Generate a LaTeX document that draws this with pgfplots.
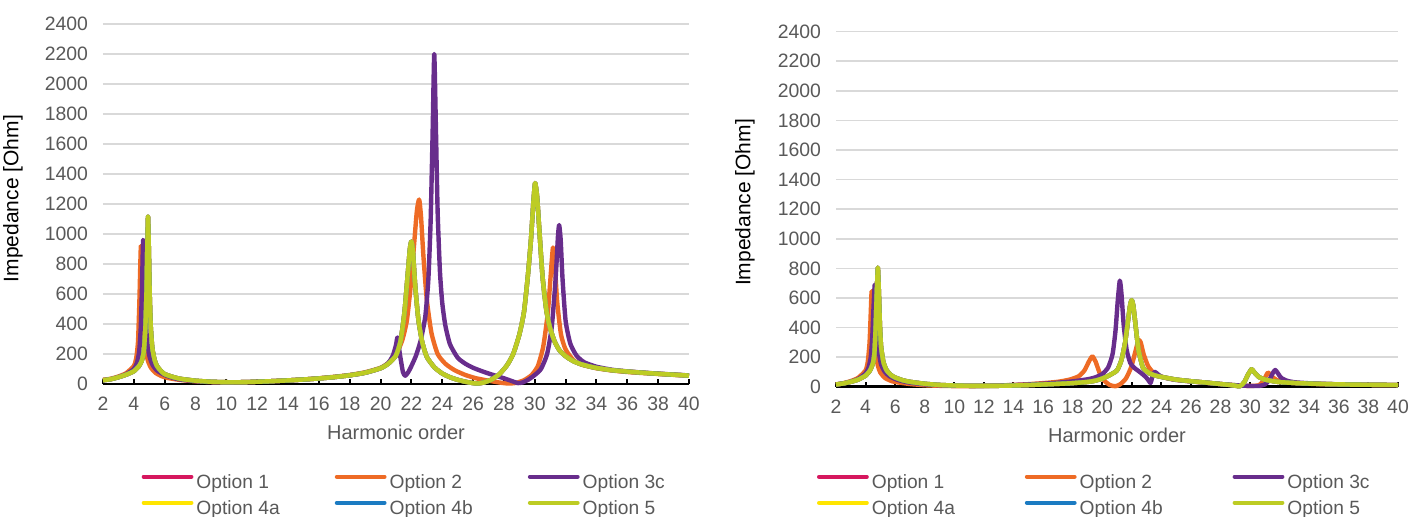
\documentclass[border=0pt]{standalone}
\usepackage{fontspec}
\setmainfont{Liberation Sans}
\usepackage{pgfplots}
\usepackage{pgfplotstable}
\pgfplotsset{compat=1.18}

\definecolor{optOne}{HTML}{D6175E}
\definecolor{optTwo}{HTML}{EE6B25}
\definecolor{optThree}{HTML}{682D8C}
\definecolor{optFourA}{HTML}{FFE500}
\definecolor{optFourB}{HTML}{1B7BC2}
\definecolor{optFive}{HTML}{BDCC24}
\definecolor{labelgray}{HTML}{595959}
\definecolor{gridgray}{HTML}{D9D9D9}

% ---------- network 1 : impedance vs harmonic order ----------
\pgfplotstableread{
h z
2 25
2.5 32
3 45
3.5 62
4 85
4.3 115
4.5 150
4.65 220
4.75 380
4.82 620
4.87 900
4.92 1115
4.97 920
5.03 600
5.1 380
5.2 240
5.35 160
5.5 120
5.75 88
6 66
6.5 48
7 35
8 22
9 15
10 12
11 12
12 15
13 19
14 24
15 30
16 37
17 46
18 58
19 75
20 105
20.5 135
21 190
21.3 290
21.55 480
21.75 720
21.9 900
22 950
22.1 880
22.25 650
22.45 430
22.7 280
23 180
23.5 110
24 70
24.5 45
25 28
25.5 15
26 6
26.3 3
26.7 10
27.2 30
27.7 65
28.2 125
28.6 200
29 330
29.3 480
29.55 720
29.75 960
29.9 1200
30.02 1340
30.15 1250
30.3 1020
30.5 720
30.75 490
31 370
31.3 280
31.6 225
32 185
32.5 152
33 132
33.5 118
34 107
35 92
36 83
37 75
38 68
39 62
40 56
}\leftFive

\pgfplotstableread{
h z
2 28
2.5 35
3 50
3.5 72
4 120
4.15 170
4.27 280
4.36 550
4.42 800
4.46 920
4.52 750
4.6 450
4.72 260
4.9 160
5.1 110
5.4 75
5.8 52
6.2 40
7 27
8 18
9 13
10 11
11 12
12 15
13 19
14 24
15 30
16 38
17 48
18 60
19 78
20 108
20.5 140
21 195
21.4 290
21.7 420
21.95 650
22.15 900
22.35 1150
22.5 1230
22.62 1120
22.78 850
23 560
23.3 340
23.7 200
24.2 135
24.8 92
25.5 60
26.2 38
27 22
27.7 10
28.3 3
28.8 8
29.3 25
29.8 60
30.2 120
30.55 250
30.85 480
31.05 750
31.18 910
31.3 800
31.45 550
31.7 330
32 230
32.5 160
33 130
34 105
35 90
36 80
37 73
38 67
39 61
40 56
}\leftTwo

\pgfplotstableread{
h z
2 25
2.5 32
3 46
3.5 65
4 100
4.2 140
4.35 220
4.45 380
4.53 650
4.6 960
4.66 800
4.74 500
4.85 300
5 190
5.2 130
5.5 90
6 60
6.5 42
7 30
8 19
9 13
10 11
11 12
12 15
13 19
14 24
15 30
16 37
17 46
18 58
19 75
20 105
20.5 140
20.8 190
21 260
21.1 310
21.25 200
21.45 80
21.6 55
21.8 80
22 120
22.3 190
22.6 290
22.9 450
23.1 700
23.25 1100
23.38 1700
23.48 2200
23.58 1750
23.7 1150
23.85 750
24 540
24.2 390
24.5 265
25 175
25.5 135
26 108
26.5 88
27 70
27.5 54
28 38
28.5 20
28.9 6
29.2 10
29.6 30
30 60
30.4 100
30.8 200
31.1 380
31.35 700
31.5 980
31.58 1060
31.68 960
31.8 700
32 420
32.3 270
32.7 190
33.2 145
34 115
35 95
36 84
37 76
38 69
39 63
40 57
}\leftThree

% ---------- network 2 ----------
\pgfplotstableread{
h z
2 15
2.5 22
3 33
3.5 48
4 75
4.3 110
4.5 160
4.6 230
4.68 400
4.75 620
4.83 805
4.9 640
4.97 420
5.05 270
5.2 170
5.4 115
5.7 80
6 62
6.5 44
7 33
8 20
9 12
10 8
11 6
12 5
13 6
14 8
15 11
16 15
17 19
18 24
19 32
19.5 40
20 55
20.5 78
21 110
21.3 180
21.55 300
21.75 450
21.9 560
22 585
22.1 550
22.25 420
22.45 250
22.75 130
23.2 90
23.6 75
24 66
24.5 57
25 48
26 37
27 28
28 18
28.8 10
29.3 3
29.6 30
29.85 80
30.1 118
30.3 95
30.6 65
31 48
31.5 38
32 31
33 25
34 21
35 18
36 16
37 14
38 13
39 12
40 11
}\rightFive

\pgfplotstableread{
h z
2 15
2.5 24
3 38
3.5 60
4 110
4.15 170
4.27 300
4.35 500
4.41 645
4.48 540
4.58 340
4.7 210
4.85 135
5 95
5.3 60
5.7 40
6 32
7 18
8 10
9 6
10 4
11 4
12 5
13 8
14 12
15 17
16 24
17 33
17.8 48
18.4 70
18.8 110
19.1 170
19.33 205
19.55 170
19.8 100
20.1 45
20.5 12
20.88 3
21.2 15
21.6 55
21.95 130
22.25 240
22.45 315
22.6 300
22.8 220
23.1 140
23.5 90
24 68
24.5 55
25 46
26 36
27 27
28 18
29 10
30 5
30.6 10
30.9 40
31.2 95
31.45 70
31.8 45
32.3 32
33 25
34 20
35 17
36 15
38 13
40 11
}\rightTwo

\pgfplotstableread{
h z
2 15
2.5 22
3 34
3.5 52
4 90
4.2 130
4.35 200
4.45 330
4.53 520
4.62 690
4.7 560
4.8 360
4.92 220
5.05 150
5.3 100
5.6 72
6 52
6.5 37
7 27
8 16
9 10
10 7
11 6
12 6
13 8
14 11
15 15
16 20
17 27
18 36
19 50
19.5 62
20 85
20.4 130
20.7 220
20.9 380
21.05 580
21.19 717
21.3 630
21.45 420
21.65 250
21.9 160
22.2 125
22.6 95
22.95 65
23.15 40
23.27 25
23.4 70
23.55 100
23.75 85
24 68
24.5 55
25 46
26 36
27 27
28 18
29 10
30 5
30.6 5
31 15
31.3 45
31.55 95
31.7 113
31.85 95
32.1 60
32.5 40
33 30
34 23
35 19
36 16
37 14
38 13
39 12
40 11
}\rightThree

\pgfplotsset{
  impedance/.style={
    scale only axis,
    clip=false,
    xmin=2, xmax=40, ymin=0, ymax=2400,
    xtick={2,4,...,40}, ytick={0,200,...,2400},
    axis lines*=left,
    x axis line style={black, line width=1.3pt, -},
    y axis line style={draw=none},
    xtick style={black, line width=1pt},
    ytick style={draw=none},
    tick align=inside,
    major tick length=2.5pt,
    ymajorgrids,
    grid style={gridgray, line width=0.8pt},
    /pgf/number format/1000 sep={},
    /pgf/number format/assume math mode=true,
    tick label style={font=\fontsize{9.7}{11}\selectfont, text=labelgray},
    yticklabel style={xshift=-4pt},
    xticklabel style={yshift=-3pt},
    xlabel={Harmonic order},
    ylabel={Impedance [Ohm]},
    xlabel style={font=\fontsize{10}{12}\selectfont, text=labelgray, anchor=center},
    ylabel style={font=\fontsize{10.5}{12}\selectfont, text=black, anchor=center},
    every axis plot/.append style={line width=2.2pt, no markers, line join=round, smooth, tension=0.35},
    legend columns=3,
    legend style={draw=none, fill=none, inner sep=0pt, outer sep=0pt,
      anchor=north west, font=\fontsize{9.6}{11}\selectfont, text=labelgray,
      nodes={inner sep=0pt}, row sep=4.5pt, column sep=0pt},
    legend image code/.code={\draw[#1, line width=2pt, line cap=round, sharp plot] (0.8pt,3.3pt) -- (24.7pt,3.3pt);},
  }
}

\newcommand{\entry}[2]{\addlegendentry{\makebox[#1][l]{\hspace{1.5pt}#2\vphantom{Op}}}}

\begin{document}
\begin{tikzpicture}
\useasboundingbox (0,0) rectangle (712pt,258.5pt);

\begin{axis}[impedance,
  at={(51.5pt,66.5pt)}, anchor=south west,
  width=293pt, height=180pt,
  xlabel style={at={(axis description cs:0.5,-0.133)}},
  ylabel style={at={(axis description cs:-0.1536,0.515)}},
  legend style={at={(axis description cs:0.066,-0.252)}},
]
\addplot[optOne]   table[x=h,y=z] {\leftFive};   \entry{70.65pt}{Option 1}
\addplot[optTwo]   table[x=h,y=z] {\leftTwo};    \entry{70.65pt}{Option 2}
\addplot[optThree] table[x=h,y=z] {\leftThree};  \entry{70.65pt}{Option 3c}
\addplot[optFourA] table[x=h,y=z] {\leftFive};   \entry{70.65pt}{Option 4a}
\addplot[optFourB] table[x=h,y=z] {\leftFive};   \entry{70.65pt}{Option 4b}
\addplot[optFive]  table[x=h,y=z] {\leftFive};   \entry{70.65pt}{Option 5}
\end{axis}

\begin{axis}[impedance,
  at={(418pt,65.15pt)}, anchor=south west,
  width=281pt, height=177.5pt,
  xlabel style={at={(axis description cs:0.5,-0.136)}},
  ylabel style={at={(axis description cs:-0.162,0.519)}},
  legend style={at={(axis description cs:-0.0338,-0.248)}},
]
\addplot[optOne]   table[x=h,y=z] {\rightFive};  \entry{78pt}{Option 1}
\addplot[optTwo]   table[x=h,y=z] {\rightTwo};   \entry{78pt}{Option 2}
\addplot[optThree] table[x=h,y=z] {\rightThree}; \entry{78pt}{Option 3c}
\addplot[optFourA] table[x=h,y=z] {\rightFive};  \entry{78pt}{Option 4a}
\addplot[optFourB] table[x=h,y=z] {\rightFive};  \entry{78pt}{Option 4b}
\addplot[optFive]  table[x=h,y=z] {\rightFive};  \entry{78pt}{Option 5}
\end{axis}
\end{tikzpicture}
\end{document}
